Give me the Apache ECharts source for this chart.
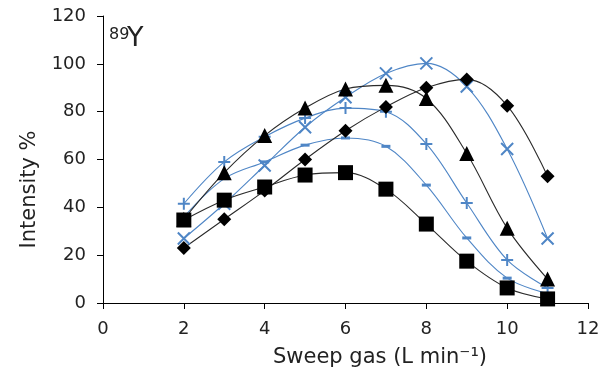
<!DOCTYPE html>
<html><head><meta charset="utf-8">
<script src="https://cdn.jsdelivr.net/npm/echarts@6/dist/echarts.min.js"></script>
<style>html,body{margin:0;padding:0;background:#fff}#c{width:606px;height:376px}</style>
</head><body><div id="c"></div>
<script>
var sweepGas = [2, 3, 4, 5, 6, 7, 8, 9, 10, 11];
var diamondVals = [23, 35, 47, 60, 72, 82, 90, 93.5, 82.5, 53];
var squareVals = [34.7, 43, 48.5, 53.5, 54.5, 47.6, 33, 17.5, 6.3, 1.7];
var triangleVals = [35, 54.5, 70, 81.5, 89.5, 91, 85.5, 62.5, 31.3, 10];
var crossVals = [27, 41.5, 57.5, 73.5, 86, 96, 100.2, 90.5, 64.4, 27];
var plusVals = [41.5, 59, 69.5, 77.3, 81.5, 80, 66.5, 41.8, 18, 6.3];
var dashVals = [36, 52, 59, 66, 69, 65.5, 49.3, 27.2, 10.4, 4];
var xTicks = [0, 2, 4, 6, 8, 10, 12];
var yTicks = [0, 20, 40, 60, 80, 100, 120];

var BLUE = '#4f86c6';
var BLACK = '#000';
var LINE_BLACK = '#2a2a2a';
var FONT = 'DejaVu Sans';
var TXT = '#222';
function pairs(v){ return sweepGas.map(function(x,i){ return [x, v[i]]; }); }
function mk(name, vals, symbol, size, color, lineColor, extra){
  return {
    name: name, type: 'line', data: pairs(vals), smooth: 0.35,
    symbol: symbol, symbolSize: size, showAllSymbol: true,
    lineStyle: {color: lineColor, width: 1.1},
    itemStyle: Object.assign({color: color, borderColor: color, borderWidth: 0}, extra || {}),
    z: 3
  };
}
var chart = echarts.init(document.getElementById('c'), null, {renderer: 'canvas'});
chart.setOption({
  animation: false,
  grid: {left: 103, right: 18, top: 16, bottom: 73},
  graphic: [
    {type: 'text', left: 109, top: 27, style: {text: '89', fontSize: 16, fontFamily: FONT, fill: TXT}},
    {type: 'text', left: 127, top: 25, style: {text: 'Y', fontSize: 27, fontFamily: FONT, fill: TXT}}
  ],
  xAxis: {
    type: 'value', min: 0, max: 12, interval: 2,
    name: 'Sweep gas (L min⁻¹)', nameLocation: 'middle', nameGap: 44,
    nameTextStyle: {fontSize: 21, fontFamily: FONT, color: TXT, padding: [0, 0, 0, 69]},
    axisLine: {lineStyle: {color: '#000', width: 1}},
    axisTick: {show: true, inside: false, length: 6, lineStyle: {color: '#000'}},
    axisLabel: {fontSize: 18, fontFamily: FONT, color: TXT, margin: 17},
    splitLine: {show: false}
  },
  yAxis: {
    type: 'value', min: 0, max: 120, interval: 20,
    name: 'Intensity %', nameLocation: 'middle', nameGap: 63, nameRotate: 90,
    nameTextStyle: {fontSize: 21, fontFamily: FONT, color: TXT, padding: [0, 60, 0, 0]},
    axisLine: {show: true, lineStyle: {color: '#000', width: 1}},
    axisTick: {show: true, inside: false, length: 6, lineStyle: {color: '#000'}},
    axisLabel: {fontSize: 18, fontFamily: FONT, color: TXT, margin: 17},
    splitLine: {show: false}
  },
  series: [
    mk('dash', dashVals, 'path://M0,0L10,0L10,3L0,3Z', [9, 3], BLUE, BLUE),
    mk('plus', plusVals, 'path://M5,0L5,10M0,5L10,5', 12, BLUE, BLUE, {borderWidth: 2}),
    mk('cross', crossVals, 'path://M0,0L10,10M10,0L0,10', 12, BLUE, BLUE, {borderWidth: 2}),
    mk('square', squareVals, 'rect', 15, BLACK, LINE_BLACK),
    mk('triangle', triangleVals, 'triangle', 15, BLACK, LINE_BLACK),
    mk('diamond', diamondVals, 'diamond', 14, BLACK, LINE_BLACK)
  ]
});
</script></body></html>
